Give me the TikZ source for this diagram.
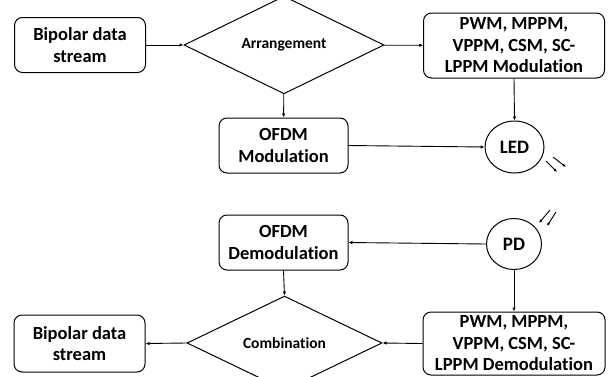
\documentclass[tikz,border=0pt]{standalone}
\usepackage{fontspec}
\setmainfont[Ligatures=NoCommon]{Carlito}
\usetikzlibrary{shapes.geometric,arrows.meta}
\begin{document}
\begin{tikzpicture}[x=1pt,y=1pt,
  every node/.style={font=\bfseries},
  blk/.style={draw,line width=1pt,rounded corners=8pt,align=center,inner sep=0pt,font=\bfseries\fontsize{18.5}{21.5}\selectfont},
  dia/.style={draw,line width=1pt,shape=diamond,inner sep=0pt,font=\bfseries\fontsize{15.5}{17}\selectfont},
  circ/.style={draw,line width=1pt,shape=ellipse,inner sep=0pt,font=\bfseries\fontsize{19}{21}\selectfont},
  arr/.style={line width=0.9pt,-{Latex[length=4pt,width=3.5pt]}},
  ray/.style={line width=0.9pt,-{Latex[length=3.5pt,width=3pt]}}]
\useasboundingbox (0,0) rectangle (609,376);
\node[blk,minimum width=131pt,minimum height=55pt] (bip1) at (80,331) {Bipolar data\\stream};
\node[dia,minimum width=200pt,minimum height=75pt] (arrg) at (284,331) {Arrangement};
\node[blk,minimum width=181pt,minimum height=65pt] (pwm1) at (514,330.5) {PWM, MPPM,\\VPPM, CSM, SC-\\LPPM Modulation};
\node[blk,minimum width=129pt,minimum height=55pt] (ofdm1) at (283.5,230.5) {OFDM\\Modulation};
\node[circ,minimum width=59pt,minimum height=52pt] (led) at (514.5,229) {LED};
\node[blk,minimum width=129pt,minimum height=55pt] (ofdm2) at (283.5,133.5) {OFDM\\Demodulation};
\node[circ,minimum width=55pt,minimum height=51pt] (pd) at (514,132) {PD};
\node[blk,minimum width=182pt,minimum height=63pt] (pwm2) at (514,32.5) {PWM, MPPM,\\VPPM, CSM, SC-\\LPPM Demodulation};
\node[dia,minimum width=195pt,minimum height=72pt] (comb) at (284.5,33) {Combination};
\node[blk,minimum width=131pt,minimum height=57pt] (bip2) at (79.5,32.5) {Bipolar data\\stream};
\draw[arr] (bip1) -- (arrg);
\draw[arr] (arrg) -- (pwm1);
\draw[arr] (arrg) -- (ofdm1);
\draw[arr] (pwm1.south) -- (led.north);
\draw[arr] (ofdm1.east) -- (led.west);
\draw[arr] (pd.west) -- (ofdm2.east);
\draw[arr] (pd.south) -- (pwm2.north);
\draw[arr] (ofdm2.south) -- (comb.north);
\draw[arr] (pwm2.west) -- (comb.east);
\draw[arr] (comb.west) -- (bip2.east);
\coordinate (l1a) at (546,215); \coordinate (l1b) at (557,204);
\coordinate (l2a) at (553,219); \coordinate (l2b) at (566,209);
\draw[ray] (l1a) -- (l1b);
\draw[ray] (l2a) -- (l2b);
\coordinate (p1a) at (550,166); \coordinate (p1b) at (539,153);
\coordinate (p2a) at (556,164); \coordinate (p2b) at (547,150);
\draw[ray] (p1a) -- (p1b);
\draw[ray] (p2a) -- (p2b);
\end{tikzpicture}
\end{document}
